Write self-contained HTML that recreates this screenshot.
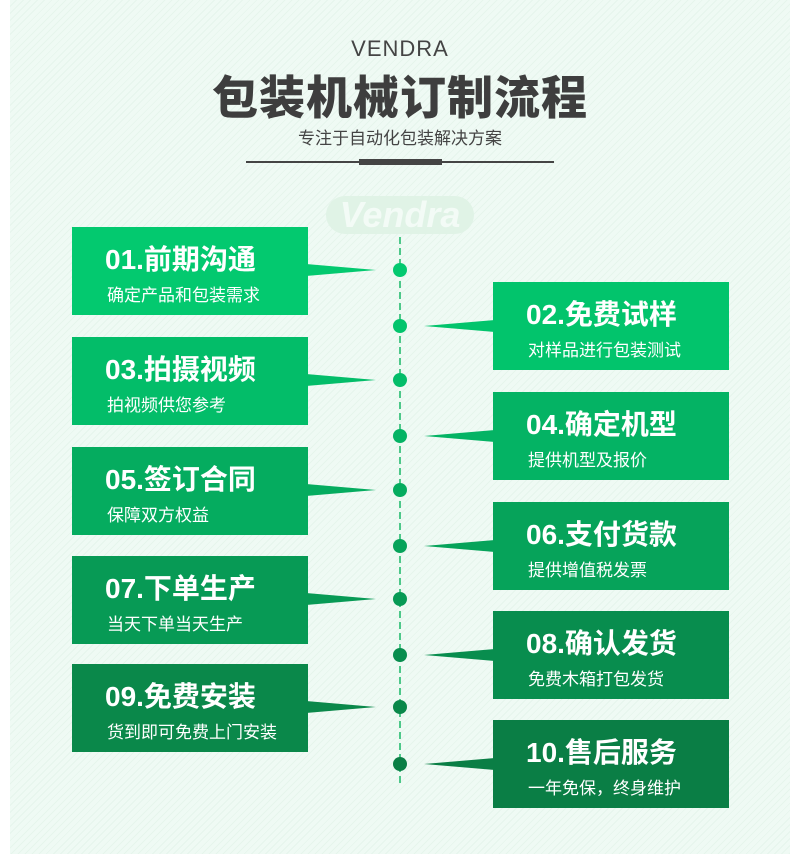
<!DOCTYPE html>
<html><head><meta charset="utf-8"><style>
*{margin:0;padding:0;box-sizing:border-box}
body{width:800px;height:858px;background:#fff;position:relative;overflow:hidden;font-family:"Liberation Sans","Noto Sans CJK SC",sans-serif}
#bg{position:absolute;left:10px;top:0;width:780px;height:854px;background:repeating-linear-gradient(135deg,#effaf4 0 4px,#e6f5ec 4px 5px)}
.t{position:absolute;left:0;width:800px;text-align:center}
.box{position:absolute;width:236px;height:88px;color:#fff}
.box .h{position:absolute;left:33px;top:11px;font-size:28px;font-weight:bold;white-space:nowrap}
.box .s{position:absolute;left:35px;top:54px;font-size:17px;white-space:nowrap}
</style></head><body>
<div id="bg"></div>
<div class="t" style="top:36px;font-size:22px;color:#444;letter-spacing:1px">VENDRA</div>
<div class="t" style="top:62px;font-size:46px;font-weight:900;color:#3e3e3e;letter-spacing:1px">包装机械订制流程</div>
<div class="t" style="top:124px;font-size:17px;color:#444">专注于自动化包装解决方案</div>
<div style="position:absolute;left:246px;top:161px;width:308px;height:2px;background:#444"></div>
<div style="position:absolute;left:359px;top:159px;width:83px;height:6px;background:#444"></div>
<div style="position:absolute;left:326px;top:196px;width:148px;height:38px;border-radius:19px;background:#e0f3e6;color:#f3fbf6;font-size:36px;font-weight:bold;font-style:italic;text-align:center;line-height:38px">Vendra</div>
<svg width="800" height="858" style="position:absolute;left:0;top:0">
<line x1="400" y1="237" x2="400" y2="785" stroke="#19b866" stroke-width="1.5" stroke-dasharray="7,4"/>
<g id="tails"></g>
</svg>
<div id="c"></div>
<script>
var L=[["01.前期沟通","确定产品和包装需求",227,"#03c96f"],["03.拍摄视频","拍视频供您参考",337,"#03bd69"],["05.签订合同","保障双方权益",447,"#05ac5f"],["07.下单生产","当天下单当天生产",556,"#079a55"],["09.免费安装","货到即可免费上门安装",664,"#0a884a"]];
var R=[["02.免费试样","对样品进行包装测试",282,"#02c46c"],["04.确定机型","提供机型及报价",392,"#04b364"],["06.支付货款","提供增值税发票",502,"#06a35a"],["08.确认发货","免费木箱打包发货",611,"#088d4e"],["10.售后服务","一年免保，终身维护",720,"#0a7e45"]];
var h="",s="";
L.forEach(function(b){var y=b[2],cy=y+43;h+='<div class="box" style="left:72px;top:'+y+'px;background:'+b[3]+'"><div class="h">'+b[0]+'</div><div class="s">'+b[1]+'</div></div>';
s+='<polygon points="306,'+(cy-6)+' 376,'+cy+' 306,'+(cy+6)+'" fill="'+b[3]+'"/><circle cx="400" cy="'+cy+'" r="7" fill="'+b[3]+'"/>';});
R.forEach(function(b){var y=b[2],cy=y+44;h+='<div class="box" style="left:493px;top:'+y+'px;background:'+b[3]+'"><div class="h">'+b[0]+'</div><div class="s">'+b[1]+'</div></div>';
s+='<polygon points="495,'+(cy-6)+' 424,'+cy+' 495,'+(cy+6)+'" fill="'+b[3]+'"/><circle cx="400" cy="'+cy+'" r="7" fill="'+b[3]+'"/>';});
document.getElementById("c").innerHTML=h;document.getElementById("tails").innerHTML=s;
</script>
</body></html>
